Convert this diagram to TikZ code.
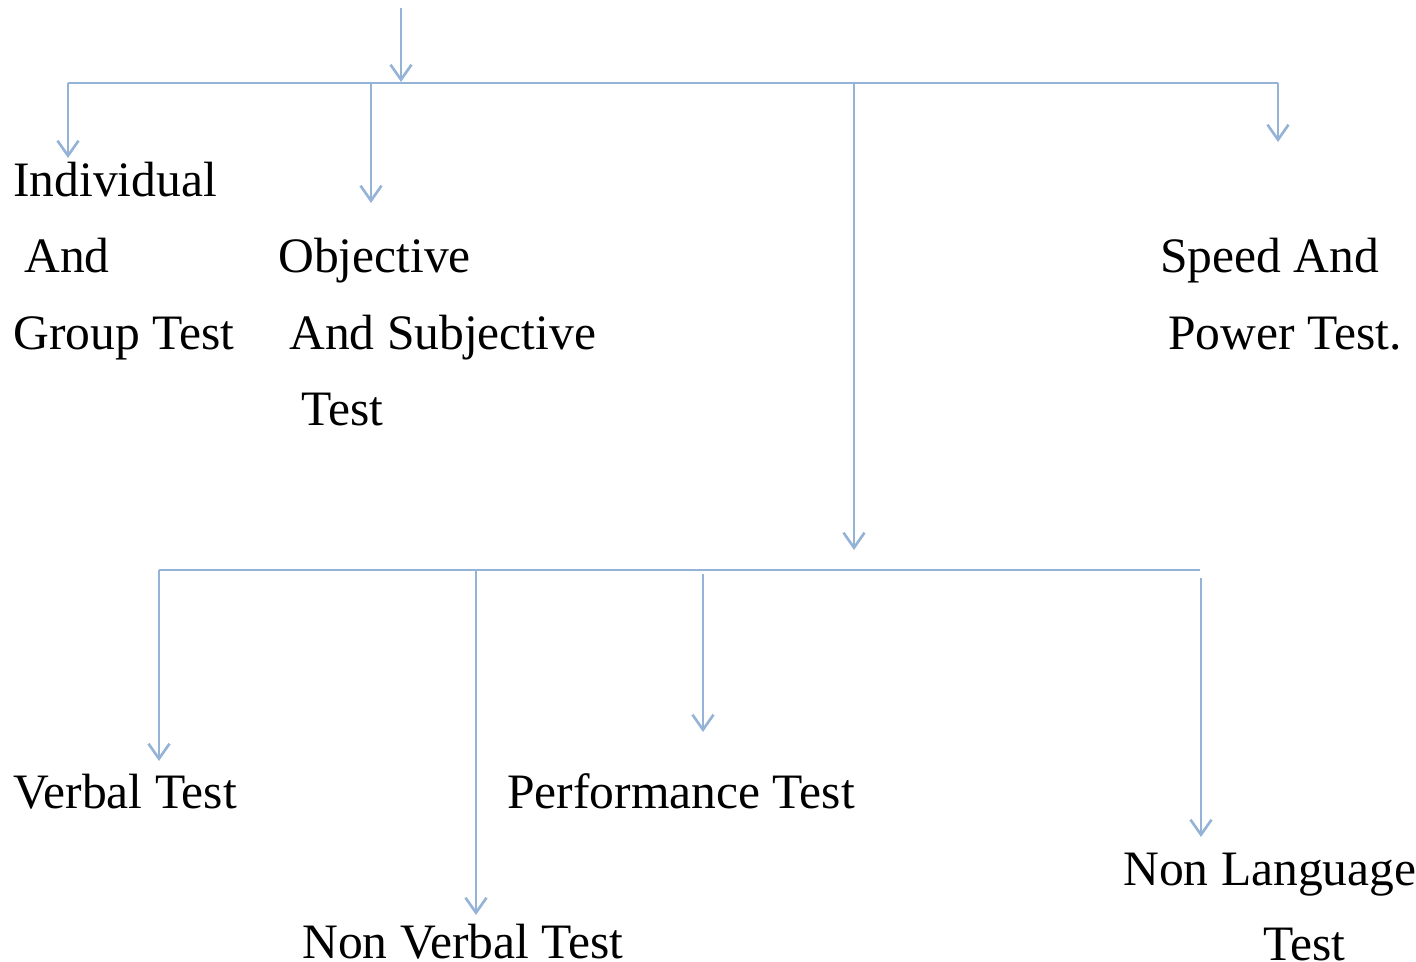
\documentclass[tikz,border=0pt]{standalone}
\usepackage{fontspec}
\setmainfont{Liberation Serif}
\usetikzlibrary{arrows.meta}
\definecolor{linkblue}{RGB}{149,179,215}

\tikzset{
  link/.style={draw=linkblue, line width=1.5pt},
  tip/.style={link, -{Straight Barb[length=0.3cm, width=0.42cm, line width=1.5pt]}},
  lbl/.style={anchor=base west, inner sep=0pt, font=\fontsize{28.2}{34}\selectfont}
}

\begin{document}
\begin{tikzpicture}[x=0.02cm, y=-0.02cm]
  \useasboundingbox (0,0) rectangle (1416,962);

  % Upper level: incoming arrow and bus
  \coordinate (in) at (401,8);
  \coordinate (inend) at (401,82);
  \coordinate (busL) at (68,83);
  \coordinate (busR) at (1278,83);
  \draw[tip] (in) -- (inend);
  \draw[link] (busL) -- (busR);

  % Upper labels
  \node[lbl] (indiv1) at (13,197) {Individual};
  \node[lbl] (indiv2) at (24,273) {And};
  \node[lbl] (indiv3) at (13,350) {Group Test};
  \node[lbl] (obj1) at (278,273) {Objective};
  \node[lbl] (obj2) at (289,350) {And Subjective};
  \node[lbl] (obj3) at (301,426) {Test};
  \node[lbl] (speed1) at (1160,273) {Speed And};
  \node[lbl] (speed2) at (1168,350) {Power Test.};

  % Upper branches
  \coordinate (indivtip) at (68,158);
  \coordinate (objtop) at (371,83);
  \coordinate (objtip) at (371,203);
  \coordinate (midtop) at (854,83);
  \coordinate (midtip) at (854,550);
  \coordinate (speedtip) at (1278,142);
  \draw[tip] (busL) -- (indivtip);
  \draw[tip] (objtop) -- (objtip);
  \draw[tip] (midtop) -- (midtip);
  \draw[tip] (busR) -- (speedtip);

  % Lower level bus
  \coordinate (lowL) at (159,570);
  \coordinate (lowR) at (1200,570);
  \draw[link] (lowL) -- (lowR);

  % Lower labels
  \node[lbl] (verbal) at (13,808) {Verbal Test};
  \node[lbl] (perf) at (507,808) {Performance Test};
  \node[lbl] (nonverbal) at (302,958) {Non Verbal Test};
  \node[lbl] (nonlang1) at (1123,885) {Non Language};
  \node[lbl] (nonlang2) at (1263,960) {Test};

  % Lower branches
  \foreach \x/\ya/\yb in {159/570/761, 476/570/915, 703/574/732, 1201/578/837}{
    \draw[tip] (\x,\ya) -- (\x,\yb);
  }
\end{tikzpicture}
\end{document}
